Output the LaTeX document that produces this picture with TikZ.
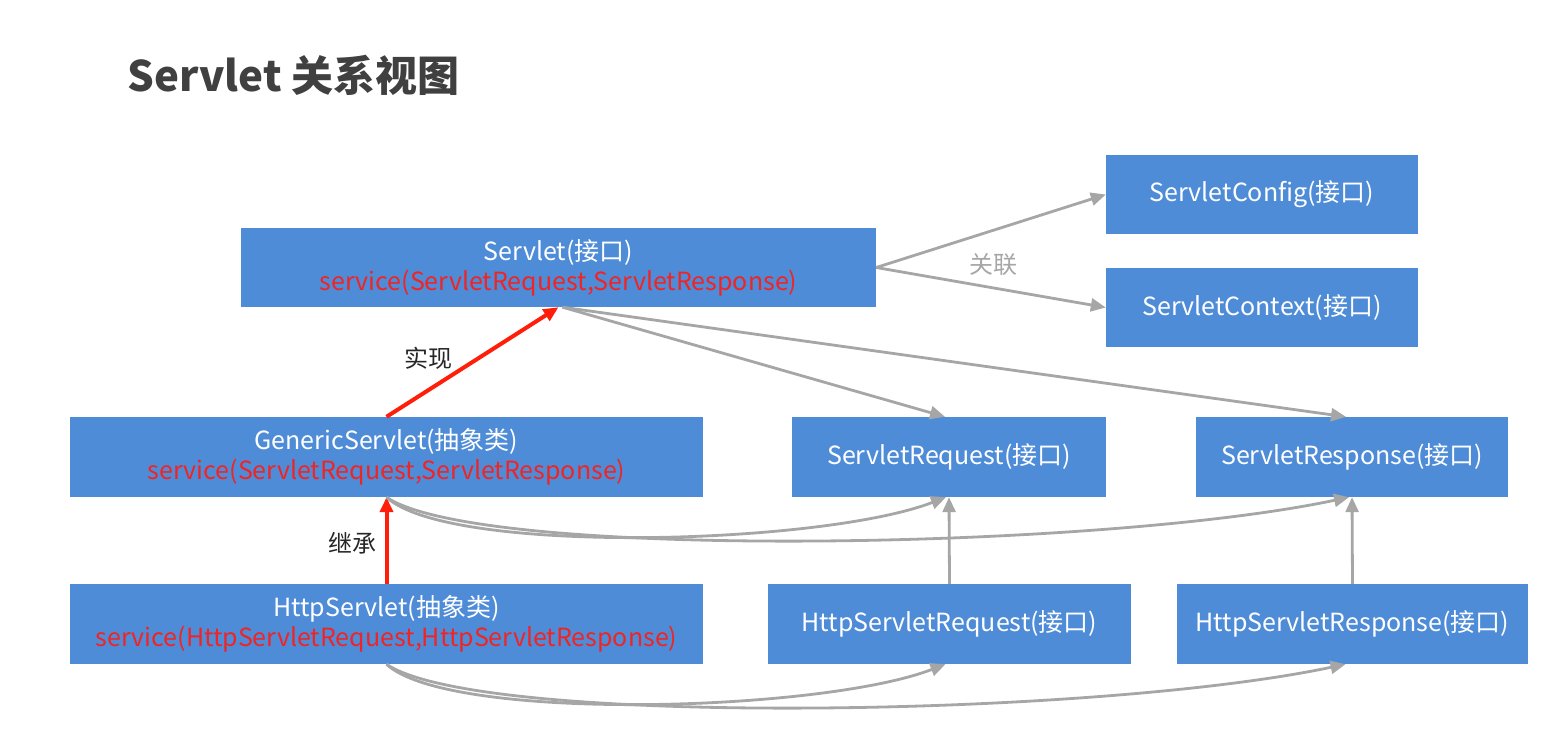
\documentclass[tikz,border=0pt]{standalone}
\usepackage{fontspec}
\setmainfont{Noto Sans CJK SC}
\usepackage{xcolor}
\usetikzlibrary{arrows.meta}
\definecolor{boxblue}{RGB}{79,140,216}
\definecolor{methred}{RGB}{240,36,36}
\definecolor{implred}{RGB}{255,30,10}
\definecolor{linkgray}{RGB}{166,166,166}
\definecolor{titlegray}{RGB}{64,64,64}
\newcommand{\meth}[1]{{\color{methred}#1}}

\begin{document}
\begin{tikzpicture}[x=1pt,y=-1pt,
  cls/.style={fill=boxblue,text=white,align=center,inner sep=0pt,
    font=\fontsize{25}{30}\selectfont},
  impl/.style={-{Triangle[length=15pt,width=13pt]},line width=4pt,draw=implred},
  rel/.style={-{Triangle[length=15pt,width=13pt]},line width=2.8pt,draw=linkgray},
  lbl/.style={font=\fontsize{24}{26}\selectfont}]
  \useasboundingbox (0,0) rectangle (1565,745);
  % title
  \node[anchor=west,text=titlegray,font=\fontsize{42}{46}\selectfont\bfseries] (title) at (124,75) {Servlet 关系视图};
  % interface row
  \node[cls,minimum width=635,minimum height=79] (serv) at (558.5,267.5) {Servlet(接口)\\\meth{service(ServletRequest,ServletResponse)}};
  \node[cls,minimum width=312,minimum height=79] (cfg) at (1262,194.5) {ServletConfig(接口)};
  \node[cls,minimum width=312,minimum height=79] (ctx) at (1262,307.5) {ServletContext(接口)};
  % middle row
  \node[cls,minimum width=633,minimum height=80] (gen) at (386.5,457) {GenericServlet(抽象类)\\\meth{service(ServletRequest,ServletResponse)}};
  \node[cls,minimum width=314,minimum height=80] (sreq) at (949,457) {ServletRequest(接口)};
  \node[cls,minimum width=312,minimum height=80] (sresp) at (1352,457) {ServletResponse(接口)};
  % http row
  \node[cls,minimum width=633,minimum height=80] (http) at (386.5,624) {HttpServlet(抽象类)\\\meth{service(HttpServletRequest,HttpServletResponse)}};
  \node[cls,minimum width=363,minimum height=80] (hreq) at (949.5,624) {HttpServletRequest(接口)};
  \node[cls,minimum width=351,minimum height=80] (hresp) at (1352.5,624) {HttpServletResponse(接口)};
  % labels
  \node[lbl,text=black!85] (implbl) at (428,358) {实现};
  \node[lbl,text=black!85] (extlbl) at (352,543) {继承};
  \node[lbl,text=linkgray] (assoclbl) at (993,265) {关联};
  % implements / extends
  \draw[impl] (gen.north) -- (serv.south);
  \draw[impl] (http.north) -- (gen.south);
  % associations
  \draw[rel] (serv.east) -- (cfg.west);
  \draw[rel] (serv.east) -- (ctx.west);
  \draw[rel] ([xshift=4pt]serv.south) -- ([xshift=-4pt]sreq.north);
  \draw[rel] ([xshift=4pt]serv.south) -- ([xshift=-6pt]sresp.north);
  \draw[rel] (gen.south) .. controls +(62,58) and +(-125,48) .. ([xshift=-3pt]sreq.south);
  \draw[rel] (gen.south) .. controls +(92,63) and +(-250,53) .. ([xshift=-3pt]sresp.south);
  \draw[rel] (hreq.north) -- (sreq.south);
  \draw[rel] (hresp.north) -- (sresp.south);
  \draw[rel] (http.south) .. controls +(62,58) and +(-125,48) .. ([xshift=-4pt]hreq.south);
  \draw[rel] (http.south) .. controls +(92,63) and +(-250,53) .. ([xshift=-7pt]hresp.south);
\end{tikzpicture}
\end{document}
